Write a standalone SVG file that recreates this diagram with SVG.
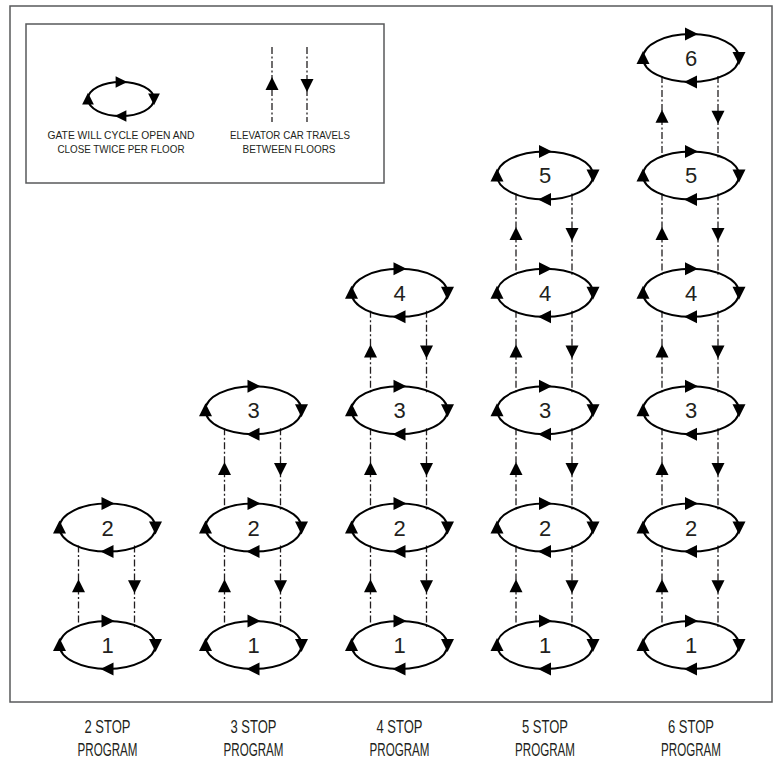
<svg xmlns="http://www.w3.org/2000/svg" xmlns:xlink="http://www.w3.org/1999/xlink" width="773" height="759" viewBox="0 0 773 759">
<style>
.frame{fill:none;stroke:#58595b;stroke-width:1.5}
.ell{fill:none;stroke:#000;stroke-width:2}
.arw{fill:#000}
.conn{stroke:#231f20;stroke-width:1.3;stroke-dasharray:7 2.5 2 2.5;fill:none}
.num{font-family:"Liberation Sans",Arial,sans-serif;font-size:22px;fill:#231f20;text-anchor:middle}
.lbl{font-family:"Liberation Sans",Arial,sans-serif;font-size:17.5px;fill:#231f20;text-anchor:middle}
.leg{font-family:"Liberation Sans",Arial,sans-serif;font-size:10.8px;fill:#231f20;text-anchor:middle}
</style>
<defs>
<path id="tri" class="arw" d="M-6,-6.5 L7,0 L-6,6.5 Z"/>
<g id="cyc">
<ellipse class="ell" cx="0" cy="0" rx="48" ry="24"/>
<use xlink:href="#tri" transform="translate(0,-24)"/>
<use xlink:href="#tri" transform="translate(48,0) rotate(90)"/>
<use xlink:href="#tri" transform="translate(0,24) rotate(180)"/>
<use xlink:href="#tri" transform="translate(-48,0) rotate(-90)"/>
</g>
</defs>
<rect width="773" height="759" fill="#fff"/>
<rect class="frame" x="10" y="6" width="762" height="696"/>

<g id="legend">
<rect class="frame" x="26" y="24" width="358" height="159"/>
<g id="legend-cycle" transform="translate(121,99)">
<ellipse class="ell" rx="33" ry="17"/>
<use xlink:href="#tri" transform="translate(0,-17) scale(0.9)"/>
<use xlink:href="#tri" transform="translate(33,0) rotate(90) scale(0.9)"/>
<use xlink:href="#tri" transform="translate(0,17) rotate(180) scale(0.9)"/>
<use xlink:href="#tri" transform="translate(-33,0) rotate(-90) scale(0.9)"/>
</g>
<text class="leg" x="121" y="139" textLength="147" lengthAdjust="spacingAndGlyphs">GATE WILL CYCLE OPEN AND</text>
<text class="leg" x="121" y="153" textLength="127" lengthAdjust="spacingAndGlyphs">CLOSE TWICE PER FLOOR</text>
<line class="conn" x1="272" y1="47" x2="272" y2="122"/>
<line class="conn" x1="307" y1="47" x2="307" y2="122"/>
<use xlink:href="#tri" transform="translate(272,84) rotate(-90)"/>
<use xlink:href="#tri" transform="translate(307,85) rotate(90)"/>
<text class="leg" x="290" y="139" textLength="120" lengthAdjust="spacingAndGlyphs">ELEVATOR CAR TRAVELS</text>
<text class="leg" x="289" y="153" textLength="93" lengthAdjust="spacingAndGlyphs">BETWEEN FLOORS</text>
</g>

<g id="connectors">
<!-- column 1 -->
<line class="conn" x1="78.5" y1="545.6" x2="78.5" y2="627"/><use xlink:href="#tri" transform="translate(78.5,586.3) rotate(-90)"/>
<line class="conn" x1="134.5" y1="545.6" x2="134.5" y2="627"/><use xlink:href="#tri" transform="translate(134.5,586.3) rotate(90)"/>
<!-- column 2 -->
<line class="conn" x1="224.5" y1="545.6" x2="224.5" y2="627"/><use xlink:href="#tri" transform="translate(224.5,586.3) rotate(-90)"/>
<line class="conn" x1="280.5" y1="545.6" x2="280.5" y2="627"/><use xlink:href="#tri" transform="translate(280.5,586.3) rotate(90)"/>
<line class="conn" x1="224.5" y1="428.2" x2="224.5" y2="509.6"/><use xlink:href="#tri" transform="translate(224.5,468.9) rotate(-90)"/>
<line class="conn" x1="280.5" y1="428.2" x2="280.5" y2="509.6"/><use xlink:href="#tri" transform="translate(280.5,468.9) rotate(90)"/>
<!-- column 3 -->
<line class="conn" x1="370.5" y1="545.6" x2="370.5" y2="627"/><use xlink:href="#tri" transform="translate(370.5,586.3) rotate(-90)"/>
<line class="conn" x1="426.5" y1="545.6" x2="426.5" y2="627"/><use xlink:href="#tri" transform="translate(426.5,586.3) rotate(90)"/>
<line class="conn" x1="370.5" y1="428.2" x2="370.5" y2="509.6"/><use xlink:href="#tri" transform="translate(370.5,468.9) rotate(-90)"/>
<line class="conn" x1="426.5" y1="428.2" x2="426.5" y2="509.6"/><use xlink:href="#tri" transform="translate(426.5,468.9) rotate(90)"/>
<line class="conn" x1="370.5" y1="310.8" x2="370.5" y2="392.2"/><use xlink:href="#tri" transform="translate(370.5,351.5) rotate(-90)"/>
<line class="conn" x1="426.5" y1="310.8" x2="426.5" y2="392.2"/><use xlink:href="#tri" transform="translate(426.5,351.5) rotate(90)"/>
<!-- column 4 -->
<line class="conn" x1="516" y1="545.6" x2="516" y2="627"/><use xlink:href="#tri" transform="translate(516,586.3) rotate(-90)"/>
<line class="conn" x1="572" y1="545.6" x2="572" y2="627"/><use xlink:href="#tri" transform="translate(572,586.3) rotate(90)"/>
<line class="conn" x1="516" y1="428.2" x2="516" y2="509.6"/><use xlink:href="#tri" transform="translate(516,468.9) rotate(-90)"/>
<line class="conn" x1="572" y1="428.2" x2="572" y2="509.6"/><use xlink:href="#tri" transform="translate(572,468.9) rotate(90)"/>
<line class="conn" x1="516" y1="310.8" x2="516" y2="392.2"/><use xlink:href="#tri" transform="translate(516,351.5) rotate(-90)"/>
<line class="conn" x1="572" y1="310.8" x2="572" y2="392.2"/><use xlink:href="#tri" transform="translate(572,351.5) rotate(90)"/>
<line class="conn" x1="516" y1="193.4" x2="516" y2="274.8"/><use xlink:href="#tri" transform="translate(516,234.1) rotate(-90)"/>
<line class="conn" x1="572" y1="193.4" x2="572" y2="274.8"/><use xlink:href="#tri" transform="translate(572,234.1) rotate(90)"/>
<!-- column 5 -->
<line class="conn" x1="662" y1="545.6" x2="662" y2="627"/><use xlink:href="#tri" transform="translate(662,586.3) rotate(-90)"/>
<line class="conn" x1="718" y1="545.6" x2="718" y2="627"/><use xlink:href="#tri" transform="translate(718,586.3) rotate(90)"/>
<line class="conn" x1="662" y1="428.2" x2="662" y2="509.6"/><use xlink:href="#tri" transform="translate(662,468.9) rotate(-90)"/>
<line class="conn" x1="718" y1="428.2" x2="718" y2="509.6"/><use xlink:href="#tri" transform="translate(718,468.9) rotate(90)"/>
<line class="conn" x1="662" y1="310.8" x2="662" y2="392.2"/><use xlink:href="#tri" transform="translate(662,351.5) rotate(-90)"/>
<line class="conn" x1="718" y1="310.8" x2="718" y2="392.2"/><use xlink:href="#tri" transform="translate(718,351.5) rotate(90)"/>
<line class="conn" x1="662" y1="193.4" x2="662" y2="274.8"/><use xlink:href="#tri" transform="translate(662,234.1) rotate(-90)"/>
<line class="conn" x1="718" y1="193.4" x2="718" y2="274.8"/><use xlink:href="#tri" transform="translate(718,234.1) rotate(90)"/>
<line class="conn" x1="662" y1="76" x2="662" y2="157.4"/><use xlink:href="#tri" transform="translate(662,116.7) rotate(-90)"/>
<line class="conn" x1="718" y1="76" x2="718" y2="157.4"/><use xlink:href="#tri" transform="translate(718,116.7) rotate(90)"/>
</g>

<!-- 2 stop -->
<g id="p2-f1" transform="translate(107.5,645)"><use xlink:href="#cyc"/><text class="num" y="8">1</text></g>
<g id="p2-f2" transform="translate(107.5,527.6)"><use xlink:href="#cyc"/><text class="num" y="8">2</text></g>
<!-- 3 stop -->
<g id="p3-f1" transform="translate(253.5,645)"><use xlink:href="#cyc"/><text class="num" y="8">1</text></g>
<g id="p3-f2" transform="translate(253.5,527.6)"><use xlink:href="#cyc"/><text class="num" y="8">2</text></g>
<g id="p3-f3" transform="translate(253.5,410.2)"><use xlink:href="#cyc"/><text class="num" y="8">3</text></g>
<!-- 4 stop -->
<g id="p4-f1" transform="translate(399.5,645)"><use xlink:href="#cyc"/><text class="num" y="8">1</text></g>
<g id="p4-f2" transform="translate(399.5,527.6)"><use xlink:href="#cyc"/><text class="num" y="8">2</text></g>
<g id="p4-f3" transform="translate(399.5,410.2)"><use xlink:href="#cyc"/><text class="num" y="8">3</text></g>
<g id="p4-f4" transform="translate(399.5,292.8)"><use xlink:href="#cyc"/><text class="num" y="8">4</text></g>
<!-- 5 stop -->
<g id="p5-f1" transform="translate(545,645)"><use xlink:href="#cyc"/><text class="num" y="8">1</text></g>
<g id="p5-f2" transform="translate(545,527.6)"><use xlink:href="#cyc"/><text class="num" y="8">2</text></g>
<g id="p5-f3" transform="translate(545,410.2)"><use xlink:href="#cyc"/><text class="num" y="8">3</text></g>
<g id="p5-f4" transform="translate(545,292.8)"><use xlink:href="#cyc"/><text class="num" y="8">4</text></g>
<g id="p5-f5" transform="translate(545,175.4)"><use xlink:href="#cyc"/><text class="num" y="8">5</text></g>
<!-- 6 stop -->
<g id="p6-f1" transform="translate(691,645)"><use xlink:href="#cyc"/><text class="num" y="8">1</text></g>
<g id="p6-f2" transform="translate(691,527.6)"><use xlink:href="#cyc"/><text class="num" y="8">2</text></g>
<g id="p6-f3" transform="translate(691,410.2)"><use xlink:href="#cyc"/><text class="num" y="8">3</text></g>
<g id="p6-f4" transform="translate(691,292.8)"><use xlink:href="#cyc"/><text class="num" y="8">4</text></g>
<g id="p6-f5" transform="translate(691,175.4)"><use xlink:href="#cyc"/><text class="num" y="8">5</text></g>
<g id="p6-f6" transform="translate(691,58)"><use xlink:href="#cyc"/><text class="num" y="8">6</text></g>

<g id="labels">
<text class="lbl" x="107.5" y="733" textLength="46" lengthAdjust="spacingAndGlyphs">2 STOP</text>
<text class="lbl" x="107.5" y="756" textLength="60" lengthAdjust="spacingAndGlyphs">PROGRAM</text>
<text class="lbl" x="253.5" y="733" textLength="46" lengthAdjust="spacingAndGlyphs">3 STOP</text>
<text class="lbl" x="253.5" y="756" textLength="60" lengthAdjust="spacingAndGlyphs">PROGRAM</text>
<text class="lbl" x="399.5" y="733" textLength="46" lengthAdjust="spacingAndGlyphs">4 STOP</text>
<text class="lbl" x="399.5" y="756" textLength="60" lengthAdjust="spacingAndGlyphs">PROGRAM</text>
<text class="lbl" x="545" y="733" textLength="46" lengthAdjust="spacingAndGlyphs">5 STOP</text>
<text class="lbl" x="545" y="756" textLength="60" lengthAdjust="spacingAndGlyphs">PROGRAM</text>
<text class="lbl" x="691" y="733" textLength="46" lengthAdjust="spacingAndGlyphs">6 STOP</text>
<text class="lbl" x="691" y="756" textLength="60" lengthAdjust="spacingAndGlyphs">PROGRAM</text>
</g>
</svg>
